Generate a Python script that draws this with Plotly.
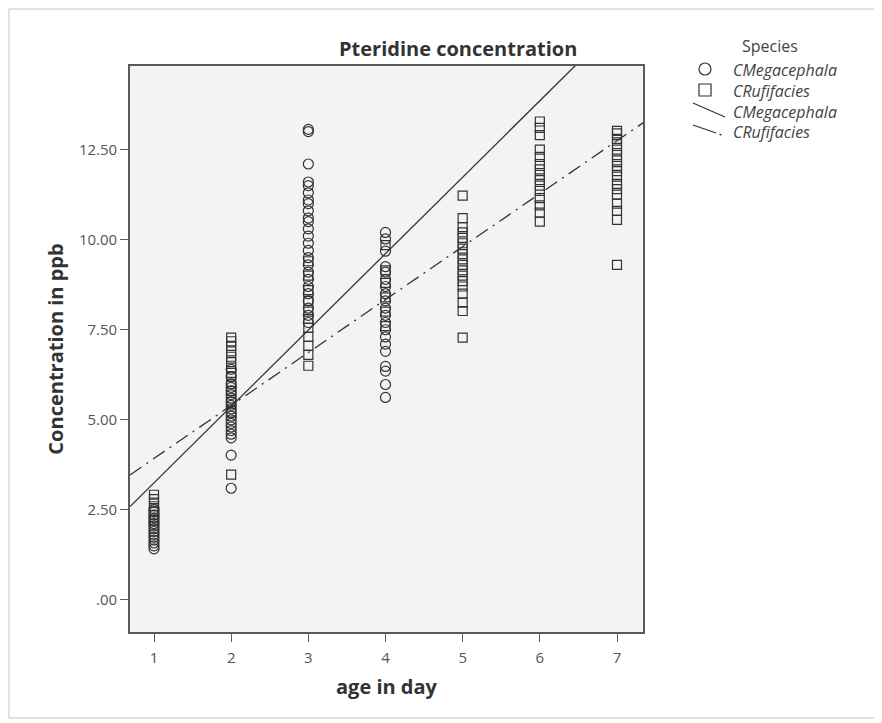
import plotly.graph_objects as go

# ---------------- data ----------------
days = [1, 2, 3, 4, 5, 6, 7]

meg_values = {
    1: [1.42, 1.5, 1.58, 1.66, 1.74, 1.82, 1.9, 1.98, 2.05, 2.12, 2.2, 2.28, 2.36, 2.44, 2.52],
    2: [3.1, 4.02, 4.5, 4.6, 4.7, 4.8, 4.9, 5.0, 5.1, 5.2, 5.3, 5.4, 5.5, 5.6, 5.7, 5.8, 5.9, 6.0, 6.2, 6.4],
    3: [13.0, 13.06, 12.1, 11.6, 11.5, 11.3, 11.1, 11.0, 10.8, 10.6, 10.5, 10.3, 10.1, 9.9, 9.7,
        9.5, 9.3, 9.1, 8.9, 8.7, 8.5, 8.3, 8.1, 7.9, 7.7],
    4: [5.62, 5.98, 6.35, 6.48, 6.9, 7.1, 7.3, 7.5, 7.7, 7.9, 8.1, 8.3, 8.5, 8.7, 8.9, 9.1, 9.25,
        9.68, 10.02, 10.2],
}
ruf_values = {
    1: [2.2, 2.35, 2.48, 2.6, 2.7, 2.8, 2.92],
    2: [3.48, 5.2, 5.5, 5.8, 6.0, 6.2, 6.3, 6.45, 6.6, 6.75, 6.9, 7.05, 7.18, 7.28],
    3: [6.5, 6.8, 7.05, 7.3, 7.55, 7.8, 8.0, 8.3, 8.6, 9.0, 9.4],
    4: [7.6, 8.0, 8.4, 8.8, 9.15, 9.85],
    5: [7.28, 8.02, 8.25, 8.5, 8.7, 8.85, 9.0, 9.15, 9.3, 9.45, 9.6, 9.75, 9.9, 10.05, 10.2,
        10.35, 10.6, 11.22],
    6: [10.5, 10.75, 10.95, 11.15, 11.35, 11.5, 11.65, 11.8, 11.95, 12.1, 12.3, 12.5, 12.9, 13.1, 13.28],
    7: [9.3, 10.55, 10.8, 11.0, 11.25, 11.4, 11.55, 11.75, 11.9, 12.05, 12.2, 12.35, 12.5, 12.65,
        12.8, 12.95, 13.02],
}

# linear fit lines: [intercept, slope]
meg_fit = [1.129, 2.121]
ruf_fit = [2.457, 1.47]

legend_title = "Species"
legend_labels = ["CMegacephala", "CRufifacies", "CMegacephala", "CRufifacies"]

x_tick_vals = [1, 2, 3, 4, 5, 6, 7]
y_tick_vals = [0, 2.5, 5, 7.5, 10, 12.5]
y_tick_text = [".00", "2.50", "5.00", "7.50", "10.00", "12.50"]

x_range = [0.689, 7.337]
y_range = [-0.89, 14.82]

# ---------------- figure ----------------
ink = "#333333"
fig = go.Figure()


def flat(d):
    xs, ys = [], []
    for k, v in d.items():
        xs += [k] * len(v)
        ys += v
    return xs, ys


mx, my = flat(meg_values)
rx, ry = flat(ruf_values)

fig.add_trace(go.Scatter(x=rx, y=ry, mode="markers", name="CRufifacies",
                         marker=dict(symbol="square-open", size=9, color=ink, line=dict(width=1.2)),
                         showlegend=False))
fig.add_trace(go.Scatter(x=mx, y=my, mode="markers", name="CMegacephala",
                         marker=dict(symbol="circle-open", size=10, color=ink, line=dict(width=1.2)),
                         showlegend=False))

lx = [x_range[0], x_range[1]]
fig.add_trace(go.Scatter(x=lx, y=[meg_fit[0] + meg_fit[1] * v for v in lx], mode="lines",
                         line=dict(color=ink, width=1.3), showlegend=False))
fig.add_trace(go.Scatter(x=lx, y=[ruf_fit[0] + ruf_fit[1] * v for v in lx], mode="lines",
                         line=dict(color=ink, width=1.3, dash="14px,6px,2px,6px"), showlegend=False))

# screen-pixel layout (page body has an 8px margin)
OFF = 8
L, R, T, B = 130, 643, 66, 632
SW, SH = 882, 723
W, H = SW - OFF, SH - OFF


def px(xp):
    return (xp - L) / (R - L)


def py(yp):
    return (B - yp) / (B - T)


font_family = "Open Sans, Noto Sans, DejaVu Sans, sans-serif"

shapes = [
    # outer frame
    dict(type="rect", xref="paper", yref="paper", x0=px(9), x1=px(877), y0=py(9), y1=py(718),
         line=dict(color="#c4c4c4", width=1), layer="below"),
    # legend symbols
    dict(type="circle", xref="paper", yref="paper", x0=px(699), x1=px(711), y0=py(75), y1=py(63),
         line=dict(color=ink, width=1.2)),
    dict(type="rect", xref="paper", yref="paper", x0=px(699), x1=px(711), y0=py(96), y1=py(84),
         line=dict(color=ink, width=1.2)),
    dict(type="line", xref="paper", yref="paper", x0=px(693), x1=px(725), y0=py(103), y1=py(117),
         line=dict(color=ink, width=1.2)),
    dict(type="line", xref="paper", yref="paper", x0=px(693), x1=px(716), y0=py(125), y1=py(133),
         line=dict(color=ink, width=1.2)),
    dict(type="line", xref="paper", yref="paper", x0=px(719.5), x1=px(721.5), y0=py(134.2), y1=py(135),
         line=dict(color=ink, width=1.4)),
]

annotations = [
    dict(text="Pteridine concentration", xref="paper", yref="paper", x=px(458), y=py(48),
         showarrow=False, xanchor="center", yanchor="middle",
         font=dict(family=font_family, size=20, color=ink, weight="bold")),
    dict(text=legend_title, xref="paper", yref="paper", x=px(740), y=py(46),
         showarrow=False, xanchor="left", yanchor="middle",
         font=dict(family=font_family, size=16, color="#444444")),
    dict(text="<br>".join(legend_labels), xref="paper", yref="paper", x=px(731), y=py(100.5),
         showarrow=False, xanchor="left", yanchor="middle", align="left",
         font=dict(family=font_family, size=16, color="#444444", style="italic")),
]

axis_common = dict(showgrid=False, zeroline=False, showline=True, linecolor="#5a5a5a", linewidth=1.6,
                   mirror=True, ticks="outside", ticklen=8, tickcolor="#5a5a5a", tickwidth=1.4,
                   tickfont=dict(family=font_family, size=15, color="#555555"))

fig.update_layout(
    width=W, height=H,
    margin=dict(l=L - OFF, r=SW - R, t=T - OFF, b=SH - B, autoexpand=False),
    paper_bgcolor="white", plot_bgcolor="#f3f3f3",
    xaxis=dict(range=x_range, tickvals=x_tick_vals, ticktext=[str(v) for v in x_tick_vals],
               ticklabelstandoff=3,
               title=dict(text="age in day", standoff=14,
                          font=dict(family=font_family, size=20, color=ink, weight="bold")),
               **axis_common),
    yaxis=dict(range=y_range, tickvals=y_tick_vals, ticktext=y_tick_text,
               title=dict(text="Concentration in ppb", standoff=10,
                          font=dict(family=font_family, size=20, color=ink, weight="bold")),
               **axis_common),
    shapes=shapes, annotations=annotations, showlegend=False,
)

fig.write_html("out.html")
